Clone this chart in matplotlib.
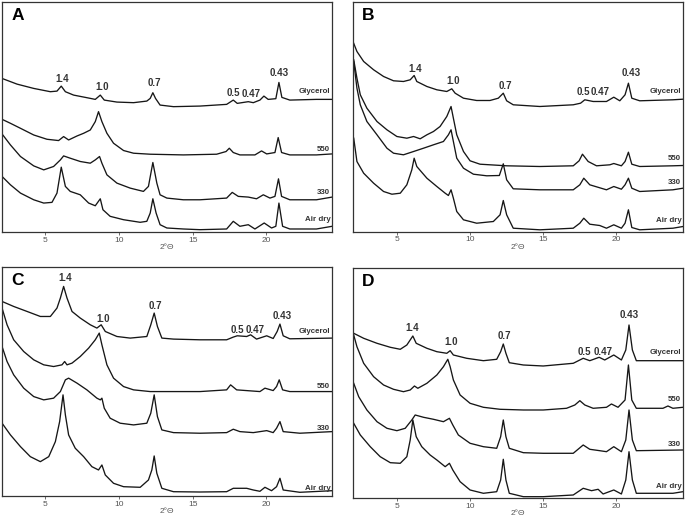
"""
XRD patterns (oriented clay fractions) - four treatments per sample, panels A-D.
Traces read off the published figure; y is relative intensity (offset stacked).
"""
import matplotlib

matplotlib.use("Agg")
import matplotlib.pyplot as plt

plt.rcParams["font.family"] = ["Liberation Sans", "DejaVu Sans"]

SERIES = ["Glycerol", "550", "330", "Air dry"]
PEAKS = ["1.4", "1.0", "0.7", "0.5", "0.47", "0.43"]

# ---------------- panel A ----------------
a_gly_x = [2.06, 3.08, 4.21, 5.34, 5.79, 6.08, 6.36, 6.92, 7.82, 8.39, 8.73, 9.00, 9.86, 10.99,
           11.89, 12.12, 12.30, 12.48, 12.79, 13.70, 15.50, 17.31, 17.76, 18.03, 18.78, 19.12,
           19.57, 19.84, 20.13, 20.65, 20.86, 21.06, 21.60, 23.41, 24.47]
a_gly_y = [154.0, 148.3, 144.0, 140.7, 141.3, 146.3, 140.7, 137.3, 134.7, 133.0, 137.3, 132.3, 130.3,
           129.7, 131.3, 134.0, 139.7, 134.0, 127.3, 125.7, 126.3, 128.0, 132.3, 129.0, 130.7, 129.7,
           132.3, 136.3, 133.0, 133.7, 150.0, 135.0, 132.3, 133.0, 133.0]
a_550_x = [2.06, 2.63, 3.31, 4.21, 5.11, 5.90, 6.24, 6.58, 7.15, 7.60, 8.05, 8.39, 8.61, 8.84, 9.18,
           9.63, 10.31, 10.99, 12.12, 14.37, 16.63, 17.27, 17.49, 17.76, 18.21, 19.23, 19.68, 20.03,
           20.59, 20.81, 21.04, 21.60, 23.41, 24.47]
a_550_y = [113.0, 109.0, 104.0, 97.3, 93.0, 91.7, 95.7, 92.3, 96.3, 99.0, 102.3, 110.7, 120.7, 110.7,
           99.0, 89.0, 81.7, 79.0, 78.0, 77.3, 78.0, 80.7, 84.0, 79.7, 77.3, 77.3, 81.3, 78.3, 79.7,
           94.7, 79.7, 77.3, 77.3, 78.3]
a_330_x = [2.06, 2.63, 3.31, 4.21, 4.89, 5.56, 6.02, 6.24, 6.69, 7.37, 8.05, 8.39, 8.68, 8.84, 9.18,
           9.86, 10.76, 11.66, 12.00, 12.30, 12.57, 12.79, 13.25, 14.37, 15.50, 17.31, 17.69, 18.10,
           18.78, 19.34, 19.80, 20.25, 20.59, 20.83, 21.04, 21.60, 23.41, 24.47]
a_330_y = [98.3, 87.3, 75.7, 66.3, 62.3, 65.7, 72.3, 76.3, 74.0, 70.7, 69.0, 72.3, 75.7, 69.0, 57.3,
           49.0, 44.0, 40.7, 45.7, 69.7, 49.0, 37.3, 34.0, 32.3, 32.3, 34.0, 39.7, 35.7, 35.0, 33.3,
           37.3, 34.0, 35.7, 53.3, 35.7, 32.3, 32.3, 35.0]
a_air_x = [2.06, 2.63, 3.31, 4.21, 4.89, 5.45, 5.79, 6.08, 6.36, 6.69, 7.37, 7.94, 8.39, 8.73, 8.91,
           9.40, 10.31, 11.44, 11.89, 12.12, 12.30, 12.52, 12.79, 13.25, 14.37, 15.50, 17.31, 17.76,
           18.21, 18.78, 19.23, 19.86, 20.36, 20.65, 20.86, 21.11, 21.60, 23.41, 24.47]
a_air_y = [55.7, 47.3, 39.0, 32.3, 29.0, 29.7, 39.0, 65.0, 45.7, 40.7, 37.3, 29.0, 26.3, 33.3, 22.3,
           15.7, 12.3, 9.7, 10.7, 19.0, 33.3, 19.0, 7.3, 4.0, 3.0, 2.3, 3.0, 10.7, 5.7, 7.3, 3.0, 9.0,
           4.0, 5.7, 29.0, 5.7, 3.0, 3.0, 5.7]
a_peak_x = [6.13, 8.84, 12.41, 17.76, 19.00, 20.86]
a_peak_y = [153.3, 145.0, 149.7, 139.6, 138.3, 159.0]
a_tag_y = [140.6, 82.3, 39.6, 12.3]

# ---------------- panel B ----------------
b_gly_x = [2.00, 2.27, 2.73, 3.41, 4.09, 4.77, 5.45, 5.91, 6.18, 6.36, 7.05, 7.73, 8.41, 8.75, 8.98,
           9.55, 10.45, 11.36, 11.93, 12.27, 12.50, 12.95, 14.77, 17.05, 17.55, 17.84, 18.41, 19.32,
           19.82, 20.23, 20.59, 20.82, 21.05, 21.59, 23.86, 24.55]
b_gly_y = [190.0, 180.0, 170.0, 161.7, 155.0, 150.7, 150.0, 151.7, 156.0, 150.0, 145.0, 141.7, 140.0,
           142.7, 138.3, 133.3, 131.0, 131.0, 133.3, 138.3, 130.7, 126.7, 125.0, 126.7, 128.3, 131.7,
           130.0, 130.0, 134.3, 130.7, 136.7, 148.3, 133.3, 130.7, 131.7, 132.3]
b_550_x = [2.05, 2.27, 2.50, 2.95, 3.64, 4.32, 5.00, 5.68, 6.14, 6.59, 7.05, 7.50, 7.95, 8.41, 8.70,
           8.86, 9.09, 9.55, 10.00, 10.68, 12.50, 14.77, 17.05, 17.45, 17.68, 18.07, 18.64, 19.55,
           19.82, 20.34, 20.59, 20.82, 21.05, 21.59, 23.86, 24.55]
b_550_y = [171.7, 153.3, 136.7, 123.3, 110.0, 101.7, 95.0, 93.3, 95.0, 92.7, 96.7, 100.0, 105.0, 115.0,
           125.0, 113.3, 96.7, 80.0, 70.7, 67.3, 65.7, 65.0, 65.7, 70.7, 77.3, 70.0, 65.7, 66.7, 68.0,
           65.7, 70.0, 79.3, 67.3, 65.0, 65.7, 66.0]
b_330_x = [2.05, 2.27, 2.50, 2.95, 3.64, 4.32, 4.77, 5.45, 6.14, 6.82, 7.50, 8.18, 8.52, 8.70, 8.86,
           9.09, 9.55, 10.23, 11.14, 12.00, 12.27, 12.50, 12.95, 14.77, 17.05, 17.50, 17.77, 18.18,
           19.32, 19.82, 20.34, 20.59, 20.82, 21.05, 21.59, 23.86, 24.55]
b_330_y = [170.0, 143.3, 126.7, 110.0, 96.7, 83.3, 78.3, 76.7, 80.0, 83.3, 86.7, 90.0, 96.7, 101.7,
           90.0, 73.3, 63.3, 57.3, 55.7, 56.0, 67.7, 51.7, 42.7, 41.7, 41.7, 46.7, 53.3, 46.7, 41.7,
           45.0, 42.3, 46.7, 53.3, 43.3, 40.0, 41.7, 43.3]
b_air_x = [2.05, 2.27, 2.73, 3.41, 4.09, 4.66, 5.23, 5.68, 6.02, 6.18, 6.36, 7.05, 7.73, 8.30, 8.52,
           8.70, 8.86, 9.09, 9.55, 10.45, 11.59, 12.05, 12.27, 12.50, 12.95, 14.77, 17.05, 17.50,
           17.77, 18.18, 18.86, 19.32, 19.82, 20.34, 20.59, 20.82, 21.05, 21.59, 23.86, 24.55]
b_air_y = [93.3, 70.0, 58.3, 48.3, 40.0, 37.3, 38.3, 46.7, 61.7, 73.3, 65.0, 53.3, 45.0, 38.3, 36.0,
           41.7, 33.3, 20.0, 11.7, 8.3, 10.0, 16.7, 31.0, 16.7, 3.3, 1.7, 3.3, 8.3, 13.3, 7.3, 6.0, 3.3,
           6.7, 3.3, 8.3, 21.7, 4.0, 1.7, 3.3, 5.0]
b_peak_x = [6.25, 8.86, 12.43, 17.73, 18.86, 21.02]
b_peak_y = [162.3, 150.0, 145.0, 139.8, 139.2, 158.2]
b_tag_y = [139.8, 73.2, 48.8, 11.5]

# ---------------- panel C ----------------
c_gly_x = [2.06, 2.85, 3.76, 4.66, 5.34, 5.79, 6.02, 6.24, 6.47, 6.81, 7.37, 8.05, 8.50, 8.79, 9.07,
           9.86, 10.76, 11.89, 12.16, 12.39, 12.61, 12.91, 13.70, 15.50, 17.31, 17.76, 18.03, 18.67,
           18.94, 19.34, 20.03, 20.47, 20.74, 20.93, 21.15, 21.60, 24.47]
c_gly_y = [194.3, 189.3, 184.3, 179.3, 179.3, 187.7, 197.7, 209.3, 197.7, 184.3, 177.7, 171.0, 167.7,
           171.0, 164.3, 159.3, 157.7, 159.3, 171.0, 182.7, 169.3, 157.7, 156.7, 156.0, 156.0, 158.7,
           160.0, 159.3, 161.0, 156.7, 160.0, 157.3, 164.3, 171.7, 160.0, 157.0, 157.7]
c_550_x = [2.06, 2.40, 2.85, 3.53, 4.21, 4.89, 5.56, 6.13, 6.31, 6.47, 6.81, 7.37, 7.94, 8.39, 8.66,
           8.84, 9.18, 9.63, 10.31, 10.99, 12.12, 15.50, 17.31, 17.58, 17.99, 19.57, 19.91, 20.47,
           20.70, 20.88, 21.11, 21.60, 24.47]
c_550_y = [187.7, 171.0, 156.0, 144.3, 136.0, 131.0, 129.3, 131.0, 134.3, 131.0, 132.7, 139.3, 147.7,
           156.0, 162.7, 151.0, 131.0, 117.7, 109.3, 106.0, 104.3, 104.3, 106.0, 111.0, 106.0, 104.3,
           107.7, 105.3, 109.3, 116.0, 106.0, 104.3, 104.3]
c_330_x = [2.06, 2.40, 2.85, 3.53, 4.21, 4.89, 5.56, 6.02, 6.36, 6.58, 7.15, 7.82, 8.50, 8.73, 8.84,
           9.00, 9.40, 10.08, 10.99, 11.89, 12.16, 12.39, 12.61, 12.91, 13.70, 15.50, 17.31, 17.76,
           18.21, 19.12, 20.03, 20.47, 20.70, 20.93, 21.15, 22.28, 24.47]
c_330_y = [149.3, 134.3, 121.0, 107.7, 99.3, 96.0, 97.7, 104.3, 116.0, 117.7, 112.7, 106.0, 97.7, 96.0,
           97.7, 87.7, 77.7, 72.7, 71.0, 72.7, 82.7, 101.0, 79.3, 66.0, 63.3, 62.7, 63.3, 66.7, 64.3,
           63.3, 65.3, 63.3, 67.7, 74.3, 64.3, 62.7, 64.3]
c_air_x = [2.06, 2.63, 3.31, 3.98, 4.66, 5.23, 5.68, 5.97, 6.20, 6.36, 6.58, 7.03, 7.60, 8.16, 8.61,
           8.84, 9.07, 9.63, 10.31, 11.44, 12.00, 12.23, 12.39, 12.57, 12.91, 13.70, 15.50, 17.31,
           17.76, 18.67, 19.12, 19.57, 19.91, 20.36, 20.70, 20.93, 21.15, 22.28, 24.47]
c_air_y = [72.7, 61.0, 49.3, 39.3, 34.3, 39.3, 54.3, 74.3, 101.0, 81.0, 61.0, 47.7, 39.3, 29.3, 26.0,
           31.0, 21.0, 12.7, 9.3, 8.7, 16.0, 26.0, 40.0, 22.7, 7.7, 4.3, 4.0, 4.3, 7.7, 7.7, 6.0, 4.7,
           8.7, 5.3, 9.3, 17.7, 6.0, 3.7, 5.3]
c_peak_x = [6.36, 8.95, 12.45, 18.03, 19.23, 21.11]
c_peak_y = [217.7, 176.7, 189.3, 166.0, 166.0, 180.0]
c_tag_y = [164.3, 109.3, 67.7, 7.7]

# ---------------- panel D ----------------
d_gly_x = [2.05, 2.73, 3.64, 4.55, 5.23, 5.68, 6.09, 6.32, 7.05, 7.73, 8.41, 8.64, 8.86, 9.77, 10.91,
           11.82, 12.09, 12.27, 12.45, 12.68, 13.64, 15.00, 17.05, 17.73, 18.18, 18.82, 19.20, 19.82,
           20.34, 20.64, 20.86, 21.09, 21.36, 24.55]
d_gly_y = [164.7, 159.7, 154.7, 150.7, 148.7, 153.0, 162.0, 154.7, 149.7, 146.3, 144.7, 147.3, 143.0,
           139.7, 137.3, 138.7, 146.3, 154.0, 144.7, 135.3, 133.0, 132.0, 134.7, 139.7, 137.3, 140.7,
           138.0, 143.0, 138.0, 148.0, 173.0, 148.0, 137.3, 137.3]
d_550_x = [2.05, 2.27, 2.73, 3.41, 4.09, 4.77, 5.45, 5.91, 6.20, 6.43, 7.05, 7.73, 8.18, 8.48, 8.64,
           8.86, 9.32, 10.00, 10.91, 12.05, 13.64, 15.00, 16.59, 17.16, 17.50, 17.84, 18.41, 19.32,
           19.66, 20.11, 20.59, 20.82, 21.05, 21.36, 23.18, 23.52, 23.86, 24.55]
d_550_y = [163.0, 151.3, 134.7, 121.3, 113.0, 108.7, 106.3, 108.0, 112.0, 109.7, 114.7, 123.0, 131.3,
           138.7, 131.3, 118.0, 103.0, 94.7, 90.7, 88.7, 88.0, 88.0, 89.7, 93.0, 97.3, 93.0, 89.7, 90.7,
           94.0, 90.7, 98.0, 133.0, 98.0, 89.7, 89.7, 92.0, 89.7, 90.7]
d_330_x = [2.05, 2.39, 2.95, 3.64, 4.32, 5.00, 5.57, 6.02, 6.25, 6.82, 7.50, 8.18, 8.59, 8.82, 9.20,
           10.00, 10.91, 11.82, 12.09, 12.27, 12.45, 12.68, 13.64, 15.00, 17.05, 17.73, 18.18, 18.86,
           19.32, 19.82, 20.34, 20.64, 20.86, 21.09, 21.36, 24.55]
d_330_y = [114.7, 101.3, 88.0, 76.3, 69.7, 67.3, 69.7, 78.0, 83.0, 80.7, 78.7, 76.3, 79.7, 73.0, 63.0,
           54.7, 51.3, 49.7, 61.3, 78.0, 61.3, 49.7, 45.3, 44.7, 44.7, 53.0, 48.7, 47.3, 46.3, 51.3,
           46.3, 58.0, 88.0, 58.0, 47.3, 48.0]
d_air_x = [2.05, 2.50, 3.18, 3.86, 4.55, 5.23, 5.68, 5.91, 6.09, 6.32, 6.70, 7.27, 7.73, 8.30, 8.59,
           8.82, 9.32, 10.00, 10.91, 11.82, 12.09, 12.27, 12.45, 12.68, 13.64, 15.00, 17.05, 17.73,
           18.30, 18.75, 19.09, 19.82, 20.34, 20.64, 20.86, 21.09, 21.36, 23.86, 24.55]
d_air_y = [74.7, 63.0, 51.3, 41.3, 35.3, 34.7, 41.3, 58.0, 78.0, 61.3, 51.3, 43.0, 38.0, 31.3, 34.7,
           28.0, 16.3, 8.0, 4.7, 6.3, 18.0, 38.7, 18.0, 4.7, 1.3, 1.3, 3.0, 9.7, 7.3, 8.7, 4.0, 8.0,
           4.0, 18.0, 46.3, 18.0, 4.7, 4.7, 6.3]
d_peak_x = [6.05, 8.70, 12.32, 17.84, 19.09, 20.86]
d_peak_y = [169.7, 155.7, 162.0, 146.3, 145.7, 183.0]
d_tag_y = [145.3, 98.7, 53.0, 11.3]

INK = "#161616"
GREY = "#555555"


def draw_panel(ax, letter, curves, xlim, ylim, peak_x, peak_y, tag_y):
    for x, y in curves:
        ax.plot(x, y, color=INK, lw=0.95, solid_joinstyle="round")
    ax.set_xlim(*xlim)
    ax.set_ylim(*ylim)
    ax.set_xticks([5, 10, 15, 20])
    ax.set_yticks([])
    ax.tick_params(axis="x", direction="out", length=2.0, width=0.6,
                   colors=GREY, labelsize=6.0, pad=1.5)
    for sp in ax.spines.values():
        sp.set_color("#333333")
        sp.set_linewidth(0.9)
    ax.set_xlabel("2°Θ", fontsize=6.0, color=GREY, labelpad=0.3)

    for lab, px, py in zip(PEAKS, peak_x, peak_y):
        ax.text(px, py, lab, ha="center", va="center", fontsize=7.0,
                fontweight="bold", color="#333333")
    tag_x = xlim[1] - 0.12
    for lab, ty in zip(SERIES, tag_y):
        ax.text(tag_x, ty, lab, ha="right", va="center", fontsize=5.7,
                fontweight="bold", color="#333333")
    ax.text(0.028, 0.975, letter, transform=ax.transAxes, ha="left", va="top",
            fontsize=12.5, fontweight="bold", color="black")


def main():
    fig = plt.figure(figsize=(6.85, 5.22), dpi=100)
    ax_a = fig.add_axes([0.003, 0.5556, 0.4818, 0.4406])
    ax_b = fig.add_axes([0.5153, 0.5565, 0.4818, 0.4397])
    ax_c = fig.add_axes([0.003, 0.0498, 0.4818, 0.4387])
    ax_d = fig.add_axes([0.5153, 0.0460, 0.4818, 0.4406])

    draw_panel(ax_a, "A",
               [(a_gly_x, a_gly_y), (a_550_x, a_550_y), (a_330_x, a_330_y), (a_air_x, a_air_y)],
               (2.06, 24.47), (0, 230.7), a_peak_x, a_peak_y, a_tag_y)
    draw_panel(ax_b, "B",
               [(b_gly_x, b_gly_y), (b_550_x, b_550_y), (b_330_x, b_330_y), (b_air_x, b_air_y)],
               (2.0, 24.55), (0, 229.5), b_peak_x, b_peak_y, b_tag_y)
    draw_panel(ax_c, "C",
               [(c_gly_x, c_gly_y), (c_550_x, c_550_y), (c_330_x, c_330_y), (c_air_x, c_air_y)],
               (2.06, 24.47), (0, 228.7), c_peak_x, c_peak_y, c_tag_y)
    draw_panel(ax_d, "D",
               [(d_gly_x, d_gly_y), (d_550_x, d_550_y), (d_330_x, d_330_y), (d_air_x, d_air_y)],
               (2.0, 24.55), (0, 230.0), d_peak_x, d_peak_y, d_tag_y)

    fig.savefig("out.png", dpi=100)
    plt.close(fig)


if __name__ == "__main__":
    main()
